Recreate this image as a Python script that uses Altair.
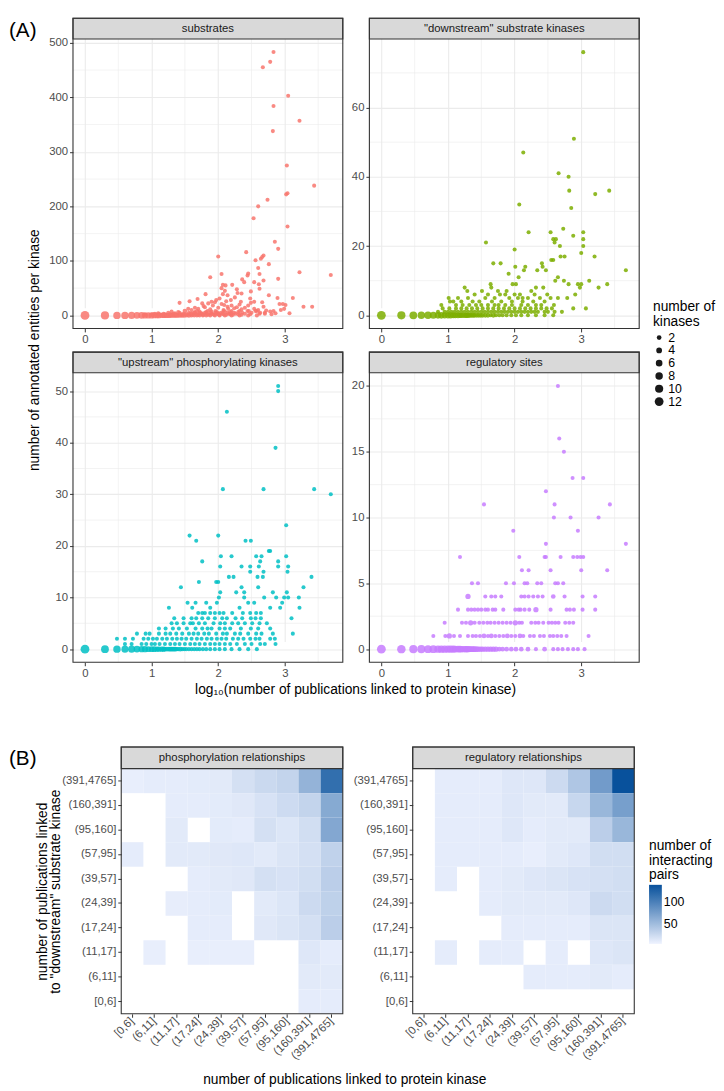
import altair as alt
import pandas as pd

FONT = "Liberation Sans"

# ----------------------------- (A) scatter data -----------------------------
PANELS = ["substrates", '"downstream" substrate kinases',
          '"upstream" phosphorylating kinases', "regulatory sites"]
PANEL_COLORS = ["#F8766D", "#7CAE00", "#00BFC4", "#C77CFF"]

X_DOMAIN = [-0.18, 3.87]
X_TICKS = [0, 1, 2, 3]
X_MINOR = [0.5, 1.5, 2.5, 3.5]

# log10(publications) of kinases sitting on the y = 0 baseline
ZERO_X = [0, 0.30, 0.48, 0.60, 0.70, 0.78, 0.85, 0.90, 0.95, 1.00,
          1.04, 1.08, 1.11, 1.15, 1.18, 1.20, 1.23, 1.26, 1.28, 1.30,
          1.32, 1.34, 1.36, 1.38, 1.40, 1.43, 1.46, 1.49, 1.52, 1.56,
          1.60, 1.64, 1.68, 1.72, 1.77, 1.82, 1.88, 1.95, 2.02, 2.10,
          2.20, 2.32, 2.45, 2.58]

SUB_ZERO_N = [12, 10, 8, 8, 7, 6, 6, 5, 5, 5, 4, 4, 4, 3, 3, 3, 3, 3, 2, 2,
              2, 2, 2, 2, 2, 2, 2, 2, 1, 2, 1, 1, 1, 1, 1, 1, 1, 1, 1, 1,
              1, 1, 1, 1]
DOWN_ZERO_N = [12, 10, 9, 8, 8, 7, 6, 6, 5, 5, 5, 4, 4, 4, 3, 3, 3, 3, 3, 3,
               2, 2, 2, 2, 2, 2, 2, 2, 2, 2, 2, 1, 2, 1, 1, 1, 1, 1, 1, 1,
               1, 1, 1, 1]
UP_ZERO_N = [12, 9, 8, 7, 7, 6, 5, 5, 4, 4, 4, 3, 3, 3, 3, 2, 2, 2, 2, 2,
             2, 2, 2, 1, 1, 2, 1, 1, 1, 1, 1, 1, 1, 1, 1, 1, 1, 1, 1, 1,
             1, 1, 1, 1]
REG_ZERO_N = [12, 11, 10, 10, 9, 9, 8, 8, 8, 7, 7, 7, 6, 6, 6, 5, 5, 5, 5, 5,
              4, 4, 4, 4, 4, 4, 3, 3, 3, 3, 3, 3, 3, 3, 2, 2, 2, 2, 2, 2,
              2, 1, 2, 1]

SUB_PTS = [
    (2.83, 483), (2.78, 465), (2.67, 455), (3.05, 403), (2.83, 384), (3.22, 357),
    (2.82, 338), (3.03, 275), (3.44, 238), (3.04, 224), (3.02, 222), (2.74, 212),
    (2.60, 200), (2.53, 178), (3.04, 163), (2.85, 135), (2.90, 122), (2.68, 110),
    (2.66, 107), (2.64, 104), (2.00, 108), (2.42, 116), (2.56, 101), (2.76, 94),
    (3.22, 79), (3.69, 74), (2.05, 76), (2.45, 77), (2.44, 73), (1.88, 70),
    (2.90, 67), (2.60, 87), (2.62, 76), (2.36, 66), (2.39, 61), (2.54, 61),
    (2.68, 64), (2.61, 57), (2.62, 49), (2.07, 56), (2.11, 55), (2.21, 56),
    (2.28, 48), (2.29, 41), (2.49, 44), (1.81, 39), (3.12, 32), (2.89, 32),
    (2.76, 37), (2.48, 31), (1.69, 30), (1.57, 26), (1.42, 23), (2.92, 21),
    (2.97, 21), (3.01, 19), (3.28, 16), (3.41, 16), (2.94, 10), (2.99, 12),
    (3.07, 4), (2.83, 8), (2.78, 7), (2.68, 16), (2.66, 24), (2.54, 25),
    (2.49, 23), (2.34, 25), (2.19, 28), (2.14, 37), (2.07, 39), (2.02, 31),
    (1.97, 28), (1.90, 25), (1.85, 22), (1.76, 22), (2.54, 12), (2.60, 10),
    (2.44, 8), (2.24, 13), (2.14, 16), (2.09, 19), (1.55, 12), (1.65, 14),
    (1.78, 17), (1.95, 24), (2.25, 33), (2.35, 40), (2.10, 45), (2.05, 50),
    (1.40, 6), (1.50, 8), (1.60, 10), (1.70, 12), (1.80, 15), (1.92, 18),
    (2.05, 21), (2.12, 26), (2.20, 18), (2.32, 20), (2.40, 14), (2.45, 18),
    (1.88, 11), (2.00, 14), (2.08, 10), (2.15, 12), (2.28, 15), (2.35, 11),
    (2.56, 8), (2.63, 5), (2.72, 9), (2.80, 2), (2.86, 4), (2.70, 3),
]
SUB_ROWS = {
    1: [0.90, 1.00, 1.08, 1.15, 1.22, 1.30, 1.38, 1.46, 1.55, 1.62, 1.70, 1.78,
        1.86, 1.94, 2.02, 2.12, 2.22, 2.35],
    2: [1.02, 1.12, 1.20, 1.28, 1.36, 1.44, 1.52, 1.60, 1.68, 1.76, 1.84, 1.92,
        2.00, 2.08, 2.18, 2.30, 2.48],
    3: [1.05, 1.18, 1.33, 1.48, 1.58, 1.66, 1.74, 1.82, 1.90, 1.98, 2.06, 2.16,
        2.26, 2.40, 2.62],
    4: [1.10, 1.35, 1.60, 1.75, 1.90, 2.00, 2.20],
    5: [1.25, 1.42, 1.56, 1.64, 1.72, 1.80, 1.88, 1.96, 2.04, 2.14, 2.24, 2.36,
        2.50, 2.70],
    6: [1.65, 1.82, 1.98, 2.18, 2.30],
    7: [1.30, 1.72, 1.90, 2.10],
    8: [1.50, 1.68, 1.84, 1.96, 2.08, 2.20, 2.32, 2.46, 2.58],
}

DOWN_PTS = [
    (3.03, 76), (2.89, 51), (2.13, 47), (2.66, 41), (2.81, 40), (2.82, 36),
    (3.21, 35), (3.42, 36), (2.85, 31), (2.07, 32), (2.73, 25), (2.88, 23),
    (3.03, 24), (3.03, 22), (3.03, 20), (3.20, 17), (3.00, 18), (3.67, 13),
    (2.00, 19), (1.57, 21), (2.21, 24), (2.54, 24), (2.58, 22), (2.62, 22),
    (2.60, 21), (2.68, 20), (2.55, 16), (2.58, 16), (2.75, 17), (2.69, 17),
    (1.68, 15), (1.79, 15), (1.91, 12), (2.01, 14), (2.06, 11), (2.14, 13),
    (2.16, 14), (2.34, 13), (2.41, 15), (2.47, 13), (2.42, 14), (2.65, 11),
    (2.61, 10), (2.74, 10), (2.81, 9), (2.95, 9), (2.98, 8), (3.00, 9),
    (3.12, 10), (3.26, 8), (3.39, 9), (3.07, 2), (2.88, 2), (2.71, 1),
    (2.65, 5), (2.79, 5), (2.91, 6), (1.64, 9), (1.65, 8), (1.25, 8),
    (1.29, 7), (1.01, 5), (1.03, 4), (0.90, 3), (1.51, 7), (1.75, 7),
    (1.86, 6), (1.88, 7), (1.97, 9), (2.02, 9), (2.05, 5), (2.08, 6),
    (2.20, 5), (2.25, 7), (2.32, 8), (2.43, 8), (2.49, 6), (2.54, 5), (2.59, 3),
]
DOWN_ROWS = {
    1: [0.85, 0.95, 1.00, 1.05, 1.10, 1.15, 1.20, 1.25, 1.30, 1.35, 1.40, 1.45,
        1.50, 1.55, 1.60, 1.65, 1.70, 1.75, 1.80, 1.85, 1.90, 1.95, 2.00, 2.05,
        2.10, 2.15, 2.20, 2.25, 2.30, 2.35, 2.45, 2.50, 2.60],
    2: [0.92, 1.02, 1.12, 1.20, 1.28, 1.36, 1.44, 1.52, 1.60, 1.68, 1.76, 1.84,
        1.92, 2.00, 2.08, 2.16, 2.24, 2.32, 2.40, 2.48, 2.56],
    3: [1.12, 1.22, 1.32, 1.42, 1.50, 1.60, 1.70, 1.76, 1.86, 1.96, 2.10, 2.20,
        2.32, 2.40],
    4: [1.08, 1.20, 1.37, 1.47, 1.66, 1.80, 1.96, 2.12, 2.28, 2.45],
    5: [1.15, 1.30, 1.56, 1.70, 1.92, 2.12, 2.38],
    6: [1.40, 1.60, 1.78, 2.00, 2.30],
}

UP_PTS = [
    (2.90, 51), (2.90, 50), (2.13, 46), (2.86, 39), (2.07, 31), (2.68, 31),
    (3.44, 31), (3.69, 30), (3.02, 24), (1.57, 22), (2.00, 22), (1.67, 21),
    (2.41, 21), (2.49, 21), (2.76, 19), (2.78, 19), (1.76, 17), (2.04, 18),
    (2.20, 18), (2.57, 18), (2.65, 18), (3.02, 18), (2.63, 17), (2.90, 17),
    (1.71, 13), (1.97, 13), (2.00, 13), (2.03, 16), (2.35, 16), (2.48, 16),
    (2.61, 16), (2.90, 16), (3.05, 16), (2.48, 15), (2.68, 15), (3.04, 15),
    (2.16, 14), (2.23, 14), (2.59, 14), (2.67, 14), (3.40, 14), (1.44, 12),
    (2.35, 12), (2.60, 12), (3.28, 12), (2.03, 11), (2.27, 11), (2.39, 11),
    (2.82, 11), (3.03, 11), (2.01, 10), (2.39, 10), (2.69, 10), (2.87, 10),
    (2.99, 10), (3.05, 10), (3.21, 10),
]
UP_ROWS = {
    9: [1.54, 1.66, 1.82, 1.98, 2.45, 2.54, 2.96],
    8: [1.26, 1.61, 1.88, 2.32, 2.78, 2.93, 3.22],
    7: [1.70, 1.76, 1.80, 1.88, 1.95, 2.02, 2.08, 2.21, 2.37, 2.48, 2.57, 2.64],
    6: [1.34, 1.48, 1.60, 1.67, 1.76, 1.85, 1.95, 2.06, 2.13, 2.26, 2.36, 2.49,
        2.56, 2.64, 3.10],
    5: [1.30, 1.38, 1.48, 1.58, 1.62, 1.71, 1.80, 1.93, 2.03, 2.10, 2.21, 2.30,
        2.40, 2.51, 2.62, 2.73],
    4: [1.11, 1.21, 1.32, 1.41, 1.53, 1.66, 1.76, 1.84, 1.90, 2.02, 2.10, 2.18,
        2.34, 2.49, 2.60, 2.78],
    3: [0.78, 0.91, 0.97, 1.11, 1.21, 1.28, 1.37, 1.46, 1.56, 1.63, 1.70, 1.79,
        1.86, 1.97, 2.07, 2.13, 2.25, 2.33, 2.45, 2.57, 2.65, 2.82, 3.12],
    2: [0.48, 0.60, 0.72, 0.88, 0.95, 1.02, 1.08, 1.16, 1.23, 1.31, 1.38, 1.45,
        1.52, 1.60, 1.68, 1.75, 1.83, 1.90, 1.98, 2.05, 2.12, 2.22, 2.30, 2.38,
        2.48, 2.56, 2.62, 2.78, 2.85],
    1: [0.60, 0.70, 0.85, 0.92, 1.00, 1.05, 1.12, 1.20, 1.28, 1.35, 1.42, 1.50,
        1.58, 1.65, 1.72, 1.80, 1.88, 1.95, 2.02, 2.10, 2.18, 2.28, 2.40, 2.50,
        2.63, 2.70, 2.86],
}

REG_PTS = [
    (2.65, 20), (2.67, 16), (2.74, 15), (2.87, 13), (3.03, 13), (2.47, 12),
    (1.54, 11), (2.60, 11), (3.43, 11), (2.59, 10), (2.84, 10), (3.26, 10),
    (1.98, 9), (2.95, 9), (2.47, 8), (3.67, 8),
]
REG_ROWS = {
    7: [1.18, 2.07, 2.45, 2.47, 2.69, 2.88, 2.94, 2.99, 3.03],
    6: [2.11, 2.21, 2.54, 3.00, 3.39],
    5: [1.36, 1.45, 1.87, 1.99, 2.15, 2.19, 2.34, 2.40, 2.61, 2.65, 2.73],
    4: [1.30, 1.30, 1.30, 1.56, 1.65, 1.71, 1.80, 2.10, 2.15, 2.21, 2.28, 2.35,
        2.42, 2.58, 2.58, 2.75, 3.02, 3.21],
    3: [1.15, 1.30, 1.35, 1.40, 1.45, 1.50, 1.56, 1.60, 1.67, 1.71, 1.83, 2.01,
        2.06, 2.09, 2.15, 2.22, 2.32, 2.32, 2.32, 2.54, 2.78, 2.83, 2.89, 3.02,
        3.21],
    2: [0.95, 1.21, 1.27, 1.34, 1.34, 1.34, 1.40, 1.47, 1.53, 1.59, 1.64, 1.70,
        1.76, 1.82, 1.88, 1.94, 2.01, 2.01, 2.01, 2.07, 2.11, 2.25, 2.31, 2.36,
        2.43, 2.51, 2.56, 2.61, 2.66, 2.76, 2.82, 2.88],
    1: [0.78, 0.96, 1.02, 1.02, 1.02, 1.09, 1.18, 1.30, 1.37, 1.42, 1.48, 1.54,
        1.54, 1.60, 1.65, 1.65, 1.71, 1.77, 1.83, 1.89, 1.89, 1.95, 2.01, 2.08,
        2.08, 2.13, 2.23, 2.29, 2.38, 2.44, 2.53, 2.58, 2.64, 2.70, 2.78, 3.11],
    0: [2.65, 2.72, 2.80, 2.88, 2.95, 3.05],
}

SUB_Y = dict(domain=[-24, 507], ticks=[0, 100, 200, 300, 400, 500], minor=[50, 150, 250, 350, 450])
DOWN_Y = dict(domain=[-3.8, 79.8], ticks=[0, 20, 40, 60], minor=[10, 30, 50, 70])
UP_Y = dict(domain=[-2.55, 53.55], ticks=[0, 10, 20, 30, 40, 50], minor=[5, 15, 25, 35, 45])
REG_Y = dict(domain=[-1, 21], ticks=[0, 5, 10, 15, 20], minor=[2.5, 7.5, 12.5, 17.5])

# ----------------------------- (B) heatmap data -----------------------------
BINS = ["[0,6]", "(6,11]", "(11,17]", "(17,24]", "(24,39]", "(39,57]",
        "(57,95]", "(95,160]", "(160,391]", "(391,4765]"]
ROWS_TD = BINS[::-1]   # top row first
N = None
PHOS = [
    [8, 10, 10, 11, 12, 20, 26, 30, 58, 116],
    [N, N, 10, 10, 11, 13, 18, 24, 30, 66],
    [N, N, 12, N, 11, 10, 20, 15, 22, 68],
    [10, N, 12, 12, 13, 14, 12, 16, 20, 32],
    [N, N, N, 10, 12, 13, 20, 18, 22, 35],
    [N, N, 9, 10, 11, N, 12, 15, 25, 33],
    [N, N, N, 10, 10, N, 13, 16, 20, 35],
    [N, 8, N, 8, 8, 8, N, N, 14, 10],
    [N, N, N, N, N, N, N, N, 12, 12],
    [N, N, N, N, N, N, N, N, 10, 10],
]
REG = [
    [N, 10, 10, 10, 14, 14, 25, 42, 78, 141],
    [N, 10, 10, 10, 14, 12, 12, 28, 55, 75],
    [N, 10, 10, 10, 14, 10, 12, 12, 35, 55],
    [N, 10, 10, 10, 10, 8, 12, 14, 22, 22],
    [N, 10, N, 10, 12, 14, 16, 18, 20, 22],
    [N, N, N, 10, 12, 12, 12, 14, 25, 22],
    [N, N, N, N, 10, 10, 10, 10, 16, 16],
    [N, 10, N, 10, 10, N, 10, N, 14, 16],
    [N, N, N, N, N, 10, 10, 10, 12, 10],
    [N, N, N, N, N, N, N, N, N, N],
]
FILL_DOMAIN = [4, 141]
FILL_RANGE = ["#EFF3FF", "#08519C"]

# ----------------------------- helpers -----------------------------
ONE = pd.DataFrame({"k": [0]})
W, H, STRIP = 274, 315, 21

SIZE_SCALE = alt.Scale(domain=[1, 12], range=[17, 80], zero=False)
SIZE_LEGEND = alt.Legend(orient="none", legendX=589, legendY=286,
                         title=["number of", "kinases"], values=[2, 4, 6, 8, 10, 12],
                         symbolType="circle", symbolFillColor="#000000",
                         symbolStrokeWidth=0, symbolOpacity=0.9,
                         titleFontSize=14, titleFontWeight="normal", titleLineHeight=15,
                         titlePadding=3, labelFontSize=12.5, rowPadding=0,
                         labelColor="#000000", titleColor="#000000", labelOffset=3)
FILL_SCALE = alt.Scale(domain=FILL_DOMAIN, range=FILL_RANGE, interpolate="rgb")
FILL_LEGEND = alt.Legend(orient="none", legendX=585, legendY=834,
                         title=["number of", "interacting", "pairs"], values=[50, 100],
                         direction="vertical", gradientLength=60, gradientThickness=13,
                         gradientStrokeWidth=0, titleFontSize=14, titleFontWeight="normal",
                         titleLineHeight=14.5, titlePadding=3, labelFontSize=12.5,
                         labelColor="#000000", titleColor="#000000")


def rect_layer(x0, x1, y0, y1, **style):
    return alt.Chart(ONE).mark_rect(**style).encode(
        x=alt.value(x0), x2=alt.value(x1), y=alt.value(y0), y2=alt.value(y1))


def text_layer(txt, x, y, size, angle=0, align="center", color="#000000", line_height=None):
    kw = dict(font=FONT, fontSize=size, align=align, baseline="middle", color=color, text=txt)
    if angle:
        kw["angle"] = angle
    if line_height:
        kw["lineHeight"] = line_height
    return alt.Chart(ONE).mark_text(**kw).encode(x=alt.value(x), y=alt.value(y))


def points_frame(panel, zero_n, pts, rows):
    base = pd.DataFrame({"x": ZERO_X, "y": [0] * len(ZERO_X), "n": zero_n})
    pairs = list(pts) + [(x, y) for y, xs in rows.items() for x in xs]
    extra = (pd.DataFrame(pairs, columns=["x", "y"])
             .groupby(["x", "y"]).size().reset_index(name="n"))
    df = pd.concat([base, extra], ignore_index=True)
    df["panel"] = panel
    return df


def axis(values):
    return alt.Axis(values=values, title=None, format="d", grid=True, gridColor="#EBEBEB",
                    gridWidth=1.1, domain=False, ticks=True, tickColor="#333333",
                    tickSize=3.5, tickWidth=1, labelColor="#4D4D4D", labelFontSize=11.5,
                    labelPadding=2, labelFont=FONT)


def scatter_panel(i, df, yspec, extras=()):
    xs = alt.Scale(domain=X_DOMAIN, nice=False, zero=False)
    ys = alt.Scale(domain=yspec["domain"], range=[H, STRIP], nice=False, zero=False)
    xax = axis(X_TICKS)
    yax = axis(yspec["ticks"])
    minor_x = alt.Chart(pd.DataFrame({"x": X_MINOR})).mark_rule(
        color="#EBEBEB", strokeWidth=0.6).encode(
        x=alt.X("x:Q", scale=xs, axis=xax), y=alt.value(STRIP), y2=alt.value(H))
    minor_y = alt.Chart(pd.DataFrame({"y": yspec["minor"]})).mark_rule(
        color="#EBEBEB", strokeWidth=0.6).encode(
        y=alt.Y("y:Q", scale=ys, axis=yax))
    pts = alt.Chart(df).mark_circle(opacity=0.85).encode(
        x=alt.X("x:Q", scale=xs, axis=xax),
        y=alt.Y("y:Q", scale=ys, axis=yax),
        size=alt.Size("n:Q", scale=SIZE_SCALE, legend=SIZE_LEGEND),
        color=alt.Color("panel:N", scale=alt.Scale(domain=PANELS, range=PANEL_COLORS),
                        legend=None),
    )
    strip = rect_layer(0, W, 0, STRIP, fill="#D9D9D9", stroke="#333333", strokeWidth=1.1)
    strip_txt = text_layer(PANELS[i], W / 2, STRIP / 2 + 0.5, 11.5, color="#1A1A1A")
    frame = rect_layer(0, W, 0, H, fillOpacity=0, stroke="#333333", strokeWidth=1.1)
    return alt.layer(minor_x, minor_y, pts, strip, strip_txt, frame, *extras).properties(
        width=W, height=H)


def heat_df(mat):
    recs = []
    for r, row in enumerate(mat):
        for c, v in enumerate(row):
            if v is not None:
                recs.append({"row": ROWS_TD[r], "col": BINS[c], "value": v})
    return pd.DataFrame(recs)


HOY, HSTRIP, HPW, HCELL = 62, 22, 225, 333


def heat_panel(title, mat, ox, extras=()):
    xs = alt.Scale(domain=BINS, range=[ox, ox + HPW], paddingInner=0, paddingOuter=0)
    ys = alt.Scale(domain=ROWS_TD, range=[HOY + HSTRIP, HCELL], paddingInner=0, paddingOuter=0)
    common = dict(title=None, domain=False, grid=False, tickColor="#333333", tickSize=3.5,
                  tickWidth=1, labelColor="#4D4D4D", labelFontSize=11.5, labelPadding=2,
                  labelFont=FONT)
    cells = alt.Chart(heat_df(mat)).mark_rect(strokeWidth=0).encode(
        x=alt.X("col:N", scale=xs,
                axis=alt.Axis(labelAngle=315, labelAlign="right", labelBaseline="middle",
                              **common)),
        y=alt.Y("row:N", scale=ys, axis=alt.Axis(offset=-ox, **common)),
        fill=alt.Fill("value:Q", scale=FILL_SCALE, legend=FILL_LEGEND),
    )
    strip = rect_layer(ox, ox + HPW, HOY, HOY + HSTRIP, fill="#D9D9D9",
                       stroke="#333333", strokeWidth=1.1)
    strip_txt = text_layer(title, ox + HPW / 2, HOY + HSTRIP / 2 + 0.5, 11.5, color="#1A1A1A")
    frame = rect_layer(ox, ox + HPW, HOY, HCELL, fillOpacity=0, stroke="#333333",
                       strokeWidth=1.1)
    return alt.layer(cells, strip, strip_txt, frame, *extras).properties(width=W, height=HCELL)


# ----------------------------- build -----------------------------
tl = scatter_panel(0, points_frame(PANELS[0], SUB_ZERO_N, SUB_PTS, SUB_ROWS), SUB_Y, extras=[
    text_layer("(A)", -65, 13, 21, align="left"),
    text_layer("number of annotated entities per kinase", -38.5, 337, 14, angle=270),
])
tr = scatter_panel(1, points_frame(PANELS[1], DOWN_ZERO_N, DOWN_PTS, DOWN_ROWS), DOWN_Y)
bl = scatter_panel(2, points_frame(PANELS[2], UP_ZERO_N, UP_PTS, UP_ROWS), UP_Y, extras=[
    text_layer("log\u2081\u2080(number of publications linked to protein kinase)", 287, 343, 14),
])
br = scatter_panel(3, points_frame(PANELS[3], REG_ZERO_N, REG_PTS, REG_ROWS), REG_Y)

hl = heat_panel("phosphorylation relationships", PHOS, 49, extras=[
    text_layer("(B)", -65, 74, 21, align="left"),
    text_layer(["number of publications linked", 'to "downstream" substrate kinase'],
               -30.5, 209, 14, angle=270, line_height=13),
    text_layer("number of publications linked to protein kinase", 276, 400, 14),
])
hr = heat_panel("regulatory relationships", REG, 44)

chart = alt.concat(tl, tr, bl, br, hl, hr, columns=2,
                   spacing={"row": 24, "column": 27}, bounds="flush").properties(
    padding=0
).configure_view(stroke="transparent").configure_axis(
    labelFont=FONT, titleFont=FONT
).configure_legend(labelFont=FONT, titleFont=FONT)

chart.save("out.html", embed_options={"renderer": "svg", "actions": False})
